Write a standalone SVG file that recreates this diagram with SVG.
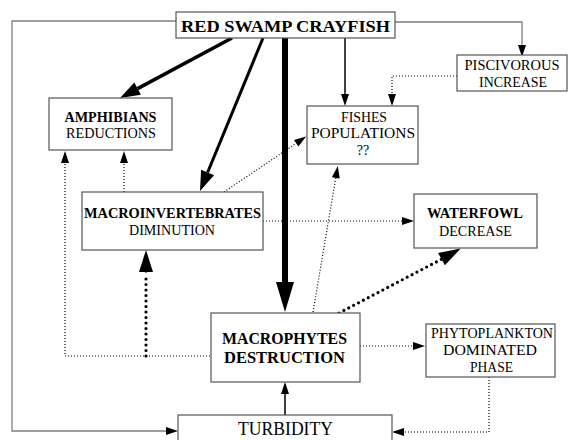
<svg xmlns="http://www.w3.org/2000/svg" width="568" height="440" viewBox="0 0 568 440">
<style>
.box{fill:#fff;stroke:#555;stroke-width:1.2}
text{font-family:'Liberation Serif','DejaVu Serif','Times New Roman',serif;fill:#000;text-anchor:middle}
.b{font-weight:bold}
.gray{fill:none;stroke:#808080;stroke-width:1.3}
.solid{fill:none;stroke:#000}
.dot{fill:none;stroke:#000;stroke-width:1.2;stroke-dasharray:1 2}
.dots{fill:none;stroke:#000;stroke-width:3.2;stroke-linecap:round;stroke-dasharray:0 5.5}
</style>
<defs>
<marker id="aS" markerUnits="userSpaceOnUse" orient="auto" markerWidth="12" markerHeight="8" refX="0" refY="4" overflow="visible"><path d="M0,0 L12,4 L0,8 z" fill="#000"/></marker>
<marker id="aM" markerUnits="userSpaceOnUse" orient="auto" markerWidth="20" markerHeight="14" refX="0" refY="7" overflow="visible"><path d="M0,0 L20,7 L0,14 z" fill="#000"/></marker>
<marker id="aD" markerUnits="userSpaceOnUse" orient="auto" markerWidth="22" markerHeight="14" refX="0" refY="7" overflow="visible"><path d="M0,0 L22,7 L0,14 z" fill="#000"/></marker>
<marker id="aL" markerUnits="userSpaceOnUse" orient="auto" markerWidth="30" markerHeight="18" refX="0" refY="9" overflow="visible"><path d="M0,0 L30,9 L0,18 z" fill="#000"/></marker>
</defs>
<g id="connectors">
<path class="gray" d="M176,21 H12 V431 H166" marker-end="url(#aS)"/>
<path class="gray" d="M395,22 H522 V45" marker-end="url(#aS)"/>
<path class="solid" stroke-width="3.5" d="M232,38 L137.6,88.6" marker-end="url(#aM)"/>
<path class="solid" stroke-width="3" d="M263,38 L207.6,172.5" marker-end="url(#aM)"/>
<path class="solid" stroke-width="6" d="M285,38 V282" marker-end="url(#aL)"/>
<path class="solid" stroke-width="1.5" d="M345,38 V94" marker-end="url(#aS)"/>
<path class="dot" d="M457,76 H392 V94" marker-end="url(#aS)"/>
<path class="dot" d="M224,192 L296.2,143.3" marker-end="url(#aS)"/>
<path class="dot" d="M124,192 V163" marker-end="url(#aS)"/>
<path class="dot" d="M210,356 H65 V163" marker-end="url(#aS)"/>
<path class="dots" d="M146,356 V274"/>
<path class="solid" stroke-width="1" d="M146,273 V272" marker-end="url(#aD)"/>
<path class="dot" d="M263,221 H402" marker-end="url(#aS)"/>
<path class="dot" d="M313,312 L335.8,177.8" marker-end="url(#aS)"/>
<path class="dots" d="M339,313 L441.5,259.2"/>
<path class="solid" stroke-width="1" d="M440.6,259.7 L441.5,259.2" marker-end="url(#aD)"/>
<path class="dot" d="M360,346 H413" marker-end="url(#aS)"/>
<path class="dot" d="M489,377 V432 H404" marker-end="url(#aS)"/>
<path class="solid" stroke-width="1.5" d="M285,415 V394" marker-end="url(#aS)"/>
</g>
<g id="crayfish">
<rect class="box" x="176" y="12" width="219" height="26"/>
<text class="b" x="285.5" y="32" font-size="17.5" textLength="209" lengthAdjust="spacingAndGlyphs">RED SWAMP CRAYFISH</text>
</g>
<g id="amphibians">
<rect class="box" x="49" y="98" width="123" height="52"/>
<text class="b" x="110.5" y="122" font-size="14" textLength="92" lengthAdjust="spacingAndGlyphs">AMPHIBIANS</text>
<text x="111" y="138" font-size="14" textLength="90" lengthAdjust="spacingAndGlyphs">REDUCTIONS</text>
</g>
<g id="fishes">
<rect class="box" x="307" y="106" width="111" height="58"/>
<text x="364" y="122" font-size="14" textLength="46" lengthAdjust="spacingAndGlyphs">FISHES</text>
<text x="363" y="138" font-size="14.5" textLength="104" lengthAdjust="spacingAndGlyphs">POPULATIONS</text>
<text x="363" y="155" font-size="14">??</text>
</g>
<g id="piscivorous">
<rect class="box" x="457" y="55" width="110" height="36"/>
<text x="512" y="70" font-size="14.5" textLength="95" lengthAdjust="spacingAndGlyphs">PISCIVOROUS</text>
<text x="513" y="87" font-size="14" textLength="68" lengthAdjust="spacingAndGlyphs">INCREASE</text>
</g>
<g id="macroinvertebrates">
<rect class="box" x="82" y="192" width="181" height="58"/>
<text class="b" x="172.5" y="218" font-size="14" textLength="177" lengthAdjust="spacingAndGlyphs">MACROINVERTEBRATES</text>
<text x="172" y="235" font-size="14" textLength="86" lengthAdjust="spacingAndGlyphs">DIMINUTION</text>
</g>
<g id="waterfowl">
<rect class="box" x="414" y="194" width="123" height="54"/>
<text class="b" x="475" y="218" font-size="14" textLength="96" lengthAdjust="spacingAndGlyphs">WATERFOWL</text>
<text x="475.5" y="236" font-size="14" textLength="73" lengthAdjust="spacingAndGlyphs">DECREASE</text>
</g>
<g id="macrophytes">
<rect class="box" x="211" y="313" width="149" height="69"/>
<text class="b" x="284.5" y="344" font-size="16" textLength="125" lengthAdjust="spacingAndGlyphs">MACROPHYTES</text>
<text class="b" x="284.5" y="363" font-size="16" textLength="121" lengthAdjust="spacingAndGlyphs">DESTRUCTION</text>
</g>
<g id="phytoplankton">
<rect class="box" x="426" y="324" width="129" height="53"/>
<text x="492" y="338" font-size="14" textLength="122" lengthAdjust="spacingAndGlyphs">PHYTOPLANKTON</text>
<text x="490" y="355" font-size="14.5" textLength="94" lengthAdjust="spacingAndGlyphs">DOMINATED</text>
<text x="491.5" y="372" font-size="14" textLength="43" lengthAdjust="spacingAndGlyphs">PHASE</text>
</g>
<g id="turbidity">
<rect class="box" x="178" y="415" width="214" height="40"/>
<text x="285.5" y="435" font-size="18" textLength="95" lengthAdjust="spacingAndGlyphs">TURBIDITY</text>
</g>
</svg>
